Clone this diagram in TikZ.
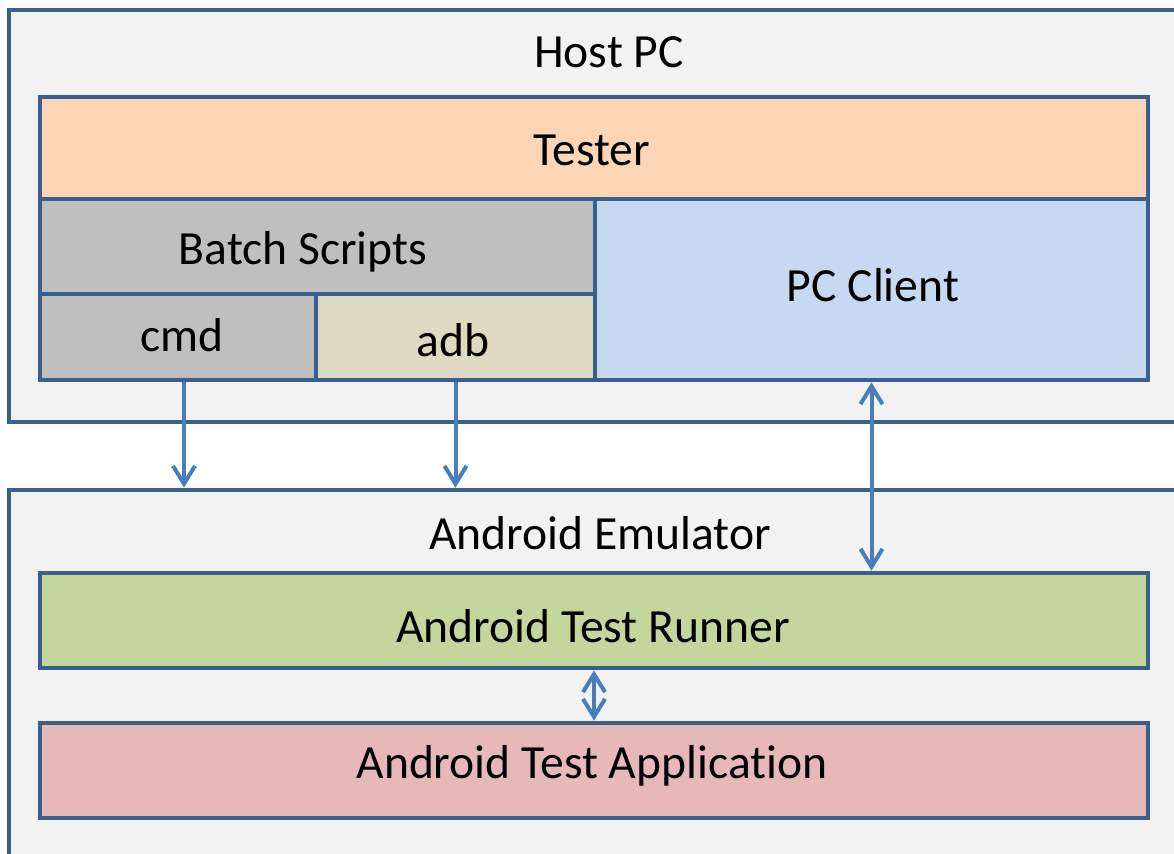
\documentclass[tikz,border=0pt]{standalone}
\usepackage{fontspec}
\setmainfont{Carlito}[Ligatures=NoCommon]
\usetikzlibrary{arrows.meta}
\usetikzlibrary{fit}
\usetikzlibrary{calc}

\definecolor{frameblue}{HTML}{3A5F8D}
\definecolor{arrowblue}{HTML}{4A7EBB}
\definecolor{panelgray}{HTML}{F2F2F2}
\definecolor{testerorange}{HTML}{FBD5B5}
\definecolor{batchgray}{HTML}{BFBFBF}
\definecolor{adbtan}{HTML}{DDD9C3}
\definecolor{clientblue}{HTML}{C6D9F1}
\definecolor{runnergreen}{HTML}{C3D69B}
\definecolor{apppink}{HTML}{E6B9B8}

\tikzset{
  layer/.style={draw=frameblue, line width=2.3pt, inner sep=0pt},
  panel/.style={layer, fill=panelgray},
  caption/.style={inner sep=0pt, font=\fontsize{23.8}{28}\selectfont},
  link/.style={draw=arrowblue, line width=2pt,
    arrows={-Straight Barb[length=9pt,width=11pt]}},
  biglink/.style={link, arrows={Straight Barb[length=9pt,width=11pt]-Straight Barb[length=9pt,width=11pt]}},
}

\begin{document}
\begin{tikzpicture}[x=0.5pt, y=-0.5pt]
	\useasboundingbox (0,0) rectangle (1174,853);
	\clip (0,0) rectangle (1174,853);
	\fill[white] (0,0) rectangle (1174,853);

	% host pc
	\node[panel, fit={(9,10) (1210,422)}] (host) {};
	\node[caption] (hosttitle) at (609,52) {Host PC};
	\node[layer, fill=testerorange, fit={(40,97) (1148,199)}] (tester) {};
	\node[caption] (testertext) at (592,150) {Tester};
	\node[layer, fill=batchgray, fit={(40,199) (595,294)}] (batch) {};
	\node[caption] (batchtext) at (303,252) {Batch Scripts};
	\node[layer, fill=batchgray, fit={(40,294) (316,380)}] (cmd) {};
	\node[caption] (cmdtext) at (182,335) {cmd};
	\node[layer, fill=adbtan, fit={(316,294) (595,380)}] (adb) {};
	\node[caption] (adbtext) at (453,340) {adb};
	\node[layer, fill=clientblue, fit={(595,199) (1148,380)}] (client) {};
	\node[caption] (clienttext) at (873,285) {PC Client};

	% emulator
	\node[panel, fit={(9,490) (1210,900)}] (emu) {};
	\node[caption] (emutitle) at (600,533) {Android Emulator};
	\node[layer, fill=runnergreen, fit={(40,573) (1148,668)}] (runner) {};
	\node[caption] (runnertext) at (593,626) {Android Test Runner};
	\node[layer, fill=apppink, fit={(40,723) (1148,818)}] (app) {};
	\node[caption] (apptext) at (592,766) {Android Test Application};

	% connectors
	\coordinate (cmdout) at ($(cmd.south)+(6,0)$);
	\draw[link] (cmdout) -- (cmdout |- emu.north);
	\draw[link] (adb.south) -- (adb.south |- emu.north);
	\draw[biglink] (client.south) -- (client.south |- runner.north);
	\draw[biglink] (runner.south) -- (app.north);
\end{tikzpicture}
\end{document}
